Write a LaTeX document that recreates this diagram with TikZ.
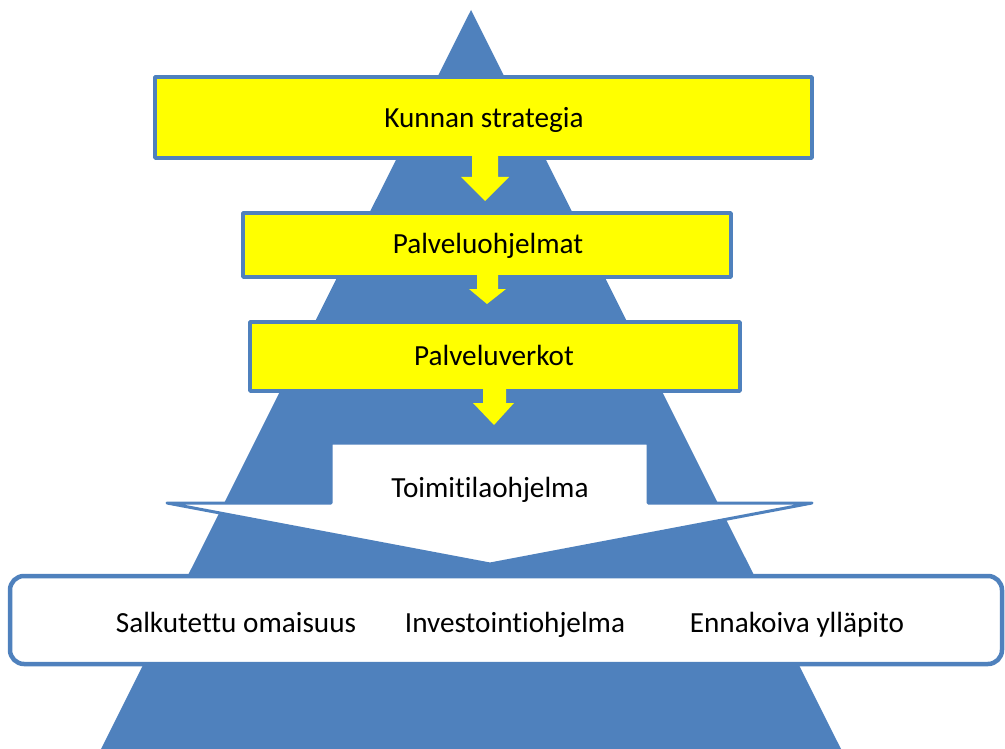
\documentclass[tikz,border=0pt]{standalone}
\usepackage{fontspec}
\setmainfont{Carlito}[Ligatures={NoCommon}]
\usetikzlibrary{positioning}
\definecolor{TriBlue}{RGB}{79,129,189}
\definecolor{BoxYellow}{RGB}{255,255,0}

\begin{document}
\begin{tikzpicture}[x=1pt, y=-1pt, line join=round,
	txt/.style={font=\fontsize{29.2}{35}\selectfont, anchor=base, inner sep=0pt},
	ybox/.style={fill=BoxYellow, draw=TriBlue, line width=3.5pt},
	yarrow/.style={fill=BoxYellow}]
		\useasboundingbox (0,0) rectangle (1005,749);
		% pyramid
		\coordinate (P) at (471,10);
		\coordinate (L) at (101,749);
		\coordinate (R) at (841,749);
		\fill[TriBlue] (P)--(L)--(R)--cycle;
		% yellow boxes
		\draw[ybox] (155,77) rectangle (812,158);
		\draw[ybox] (243,213) rectangle (731,277);
		\draw[ybox] (250,322) rectangle (740,391);
		% yellow arrows
		\fill[yarrow] (472,156)--(498,156)--(498,177)--(509,177)--(485,201)--(461,177)--(472,177)--cycle;
		\fill[yarrow] (477,275)--(498,275)--(498,289)--(506,289)--(487,304)--(469,289)--(477,289)--cycle;
		\fill[yarrow] (483,389)--(506,389)--(506,403)--(514,403)--(494,425)--(473,403)--(483,403)--cycle;
		% white arrow
		\draw[TriBlue, line width=3pt, fill=white] (331,443)--(648,443)--(648,503)--(812,503)--(490,564)--(167,503)--(331,503)--cycle;
		% bottom box
		\draw[TriBlue, line width=4.5pt, fill=white, rounded corners=14pt] (10,576) rectangle (1002,664);
		% labels
		\node[txt] (strategia) at (484,128) {Kunnan strategia};
		\node[txt] (ohjelmat) at (488,253) {Palveluohjelmat};
		\node[txt] (verkot) at (494,365) {Palveluverkot};
		\node[txt] (toimitila) at (490,497) {Toimitilaohjelma};
		\node[txt] (salkku) at (236,632) {Salkutettu omaisuus};
		\node[txt] (investointi) at (515,632) {Investointiohjelma};
		\node[txt] (ennakoiva) at (797,632) {Ennakoiva ylläpito};
\end{tikzpicture}
\end{document}
